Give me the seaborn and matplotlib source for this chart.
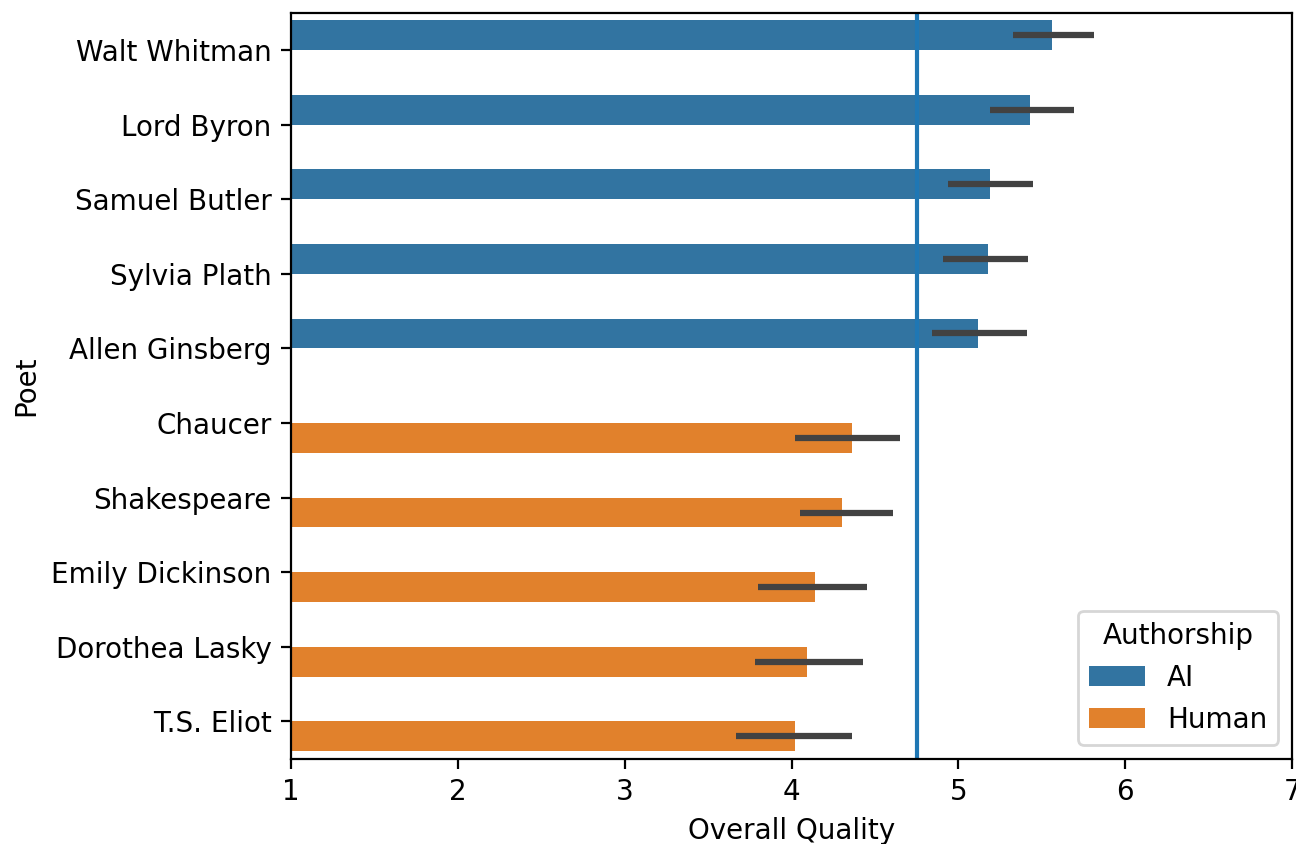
import pandas as pd
import matplotlib
matplotlib.use("Agg")
import matplotlib.pyplot as plt
import seaborn as sns

poets = ["Walt Whitman", "Lord Byron", "Samuel Butler", "Sylvia Plath", "Allen Ginsberg",
         "Chaucer", "Shakespeare", "Emily Dickinson", "Dorothea Lasky", "T.S. Eliot"]
authorship = ["AI"] * 5 + ["Human"] * 5
quality = [5.56, 5.43, 5.19, 5.18, 5.12, 4.36, 4.30, 4.14, 4.09, 4.02]
ci_low = [5.33, 5.19, 4.94, 4.91, 4.84, 4.02, 4.05, 3.80, 3.78, 3.67]
ci_high = [5.81, 5.69, 5.45, 5.42, 5.41, 4.65, 4.61, 4.45, 4.43, 4.36]
overall_mean = 4.75

df = pd.DataFrame({"Poet": poets, "Authorship": authorship, "Overall Quality": quality})

fig, ax = plt.subplots(figsize=(6.48, 4.22), dpi=200)
fig.subplots_adjust(left=0.2245, right=0.997, top=0.985, bottom=0.101)

sns.barplot(data=df, x="Overall Quality", y="Poet", hue="Authorship",
            order=poets, errorbar=None, dodge=True, ax=ax)

# error bars, matched to the bars seaborn drew
for p in ax.patches:
    w = p.get_width()
    if w == 0 or p.get_height() == 0:
        continue
    yc = p.get_y() + p.get_height() / 2
    i = int(round(yc))
    ax.hlines(yc, ci_low[i], ci_high[i], color=".26", linewidth=2.25, zorder=3)

ax.axvline(overall_mean)
ax.set_xlim(1, 7)
ax.set_ylim(len(poets) - 0.5, -0.5)
ax.legend(title="Authorship", loc="lower right")

plt.savefig("out.png", dpi=200)
